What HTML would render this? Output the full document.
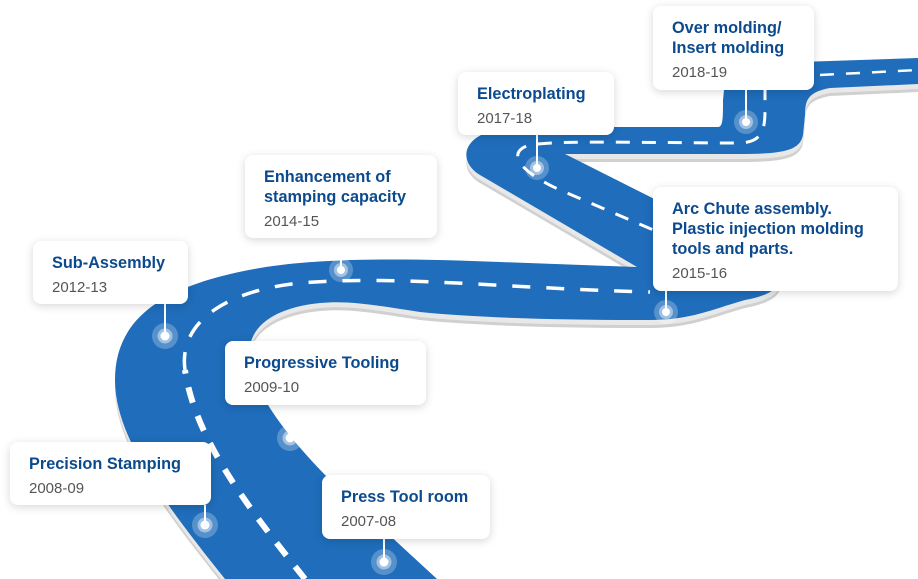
<!DOCTYPE html>
<html><head><meta charset="utf-8"><style>
body{margin:0;width:918px;height:579px;overflow:hidden;background:#fff;font-family:"Liberation Sans",sans-serif;position:relative}
svg{position:absolute;left:0;top:0}
.c{position:absolute;background:#fff;border-radius:8px;box-shadow:0 2px 9px rgba(0,0,0,.16);box-sizing:border-box;padding:12px 19px;white-space:nowrap}
.t{color:#0c4a8e;font-weight:bold;font-size:16.3px;line-height:20px}
.y{color:#555;font-size:15px;line-height:20px;margin-top:5px}
</style></head><body>
<svg width="918" height="579" viewBox="0 0 918 579">
<defs>
<path id="road" d="M225,579 C170,510 115,440 115,380 C115,320 160,285 260,268 C320,258 400,258 500,262 L637,267 L480,175 C455,160 462,128 520,127 L718,127 C723,127 723,118 723,100 L725,80 C726,68 740,63 800,62 L918,58 L918,84 L830,88 C808,92 805,100 805,115 L803,135 C800,150 785,154 740,154 L565,154 L720,232 C790,262 800,290 745,300 C710,310 690,320 650,320 C560,320 480,318 420,312 C380,306 350,300 320,303 C270,308 245,330 250,360 C255,400 300,450 335,485 L437,579 Z"/>
</defs>
<use href="#road" fill="#d0d0d0" transform="translate(0,8)"/>
<use href="#road" fill="#e8e8e8" transform="translate(0,5)"/>
<use href="#road" fill="#1f6dbb"/>
<g fill="none" stroke="#fff" stroke-linecap="butt">
<path d="M305,579 C250,510 195,440 185,370" stroke-width="6" stroke-dasharray="16 14"/>
<path d="M185,370 C178,320 230,290 300,283 C400,275 500,288 650,292" stroke-width="3.5" stroke-dasharray="18 16"/>
<path d="M700,250 L560,190 C520,172 505,152 530,145 C560,140 650,143 740,143 C762,142 765,130 765,110 L765,90" stroke-width="3" stroke-dasharray="14 12"/>
<path d="M820,75 L918,70" stroke-width="2.5" stroke-dasharray="14 12"/>
</g>
<g stroke="#fff" stroke-width="2">
<line x1="746" y1="90" x2="746" y2="122"/><line x1="537" y1="135" x2="537" y2="168"/>
<line x1="341" y1="238" x2="341" y2="270"/><line x1="165" y1="304" x2="165" y2="336"/>
<line x1="666" y1="291" x2="666" y2="312"/><line x1="290" y1="405" x2="290" y2="438"/>
<line x1="205" y1="505" x2="205" y2="525"/><line x1="384" y1="539" x2="384" y2="562"/>
</g>
<g fill="#fff">
<circle cx="746" cy="122" r="12" opacity=".25"/><circle cx="746" cy="122" r="7" opacity=".45"/><circle cx="746" cy="122" r="4"/>
<circle cx="537" cy="168" r="12" opacity=".25"/><circle cx="537" cy="168" r="7" opacity=".45"/><circle cx="537" cy="168" r="4"/>
<circle cx="341" cy="270" r="12" opacity=".25"/><circle cx="341" cy="270" r="7" opacity=".45"/><circle cx="341" cy="270" r="4"/>
<circle cx="165" cy="336" r="13" opacity=".25"/><circle cx="165" cy="336" r="7.5" opacity=".45"/><circle cx="165" cy="336" r="4.5"/>
<circle cx="666" cy="312" r="12" opacity=".25"/><circle cx="666" cy="312" r="7" opacity=".45"/><circle cx="666" cy="312" r="4"/>
<circle cx="290" cy="438" r="13" opacity=".25"/><circle cx="290" cy="438" r="7.5" opacity=".45"/><circle cx="290" cy="438" r="4.5"/>
<circle cx="205" cy="525" r="13" opacity=".25"/><circle cx="205" cy="525" r="7.5" opacity=".45"/><circle cx="205" cy="525" r="4.5"/>
<circle cx="384" cy="562" r="13" opacity=".25"/><circle cx="384" cy="562" r="7.5" opacity=".45"/><circle cx="384" cy="562" r="4.5"/>
</g>
</svg>
<div class="c" style="left:653px;top:6px;width:161px;height:84px"><div class="t">Over molding/<br>Insert molding</div><div class="y">2018-19</div></div>
<div class="c" style="left:458px;top:72px;width:156px;height:63px"><div class="t">Electroplating</div><div class="y">2017-18</div></div>
<div class="c" style="left:245px;top:155px;width:192px;height:83px"><div class="t">Enhancement of<br>stamping capacity</div><div class="y">2014-15</div></div>
<div class="c" style="left:33px;top:241px;width:155px;height:63px"><div class="t">Sub-Assembly</div><div class="y">2012-13</div></div>
<div class="c" style="left:653px;top:187px;width:245px;height:104px"><div class="t">Arc Chute assembly.<br>Plastic injection molding<br>tools and parts.</div><div class="y">2015-16</div></div>
<div class="c" style="left:225px;top:341px;width:201px;height:64px"><div class="t">Progressive Tooling</div><div class="y">2009-10</div></div>
<div class="c" style="left:10px;top:442px;width:201px;height:63px"><div class="t">Precision Stamping</div><div class="y">2008-09</div></div>
<div class="c" style="left:322px;top:475px;width:168px;height:64px"><div class="t">Press Tool room</div><div class="y">2007-08</div></div>
</body></html>
